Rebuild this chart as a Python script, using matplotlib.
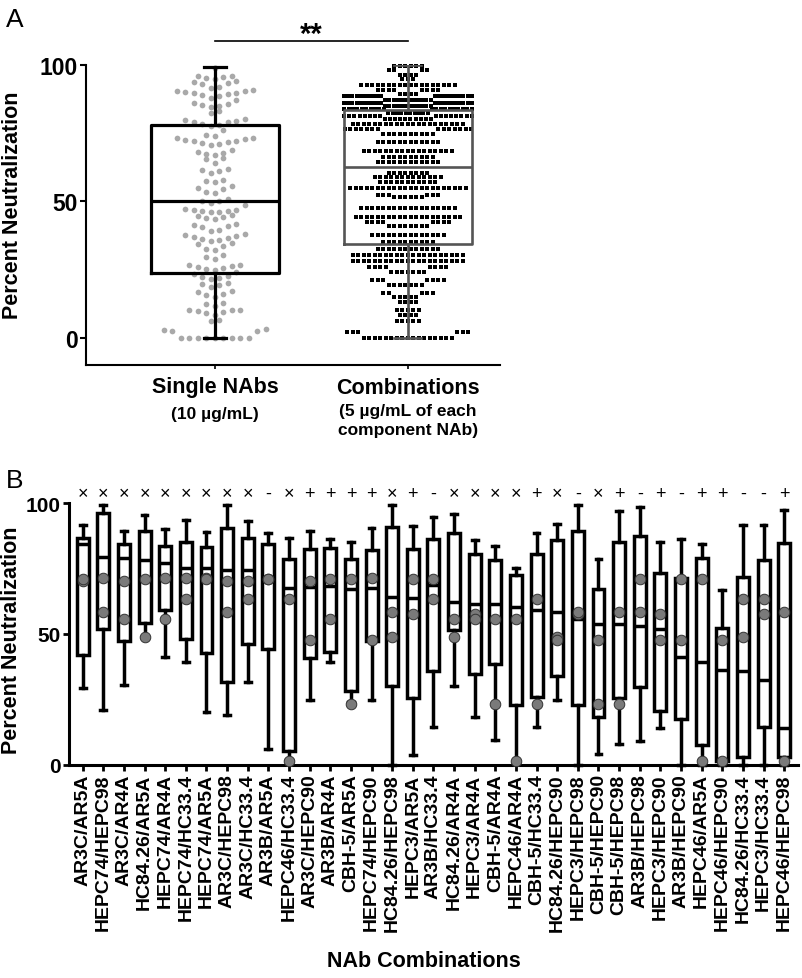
import numpy as np
import matplotlib
matplotlib.use("Agg")
import matplotlib.pyplot as plt

plt.rcParams['font.family'] = ['Liberation Sans', 'DejaVu Sans']

# ---------------- DATA ----------------
# Panel A: single NAbs (10 ug/mL) individual values
single_values = [
    0, 0, 0, 0, 0, 0, 0, 0, 0, 2.4, 2.6, 2.9, 3.1,
    6.0, 6.5,
    8.5, 9.0, 9.5, 9.8, 10.0, 10.2, 10.3,
    11.8, 12.2, 12.6,
    15.0, 15.5, 16.2, 16.6, 17.0,
    18.5, 19.5, 19.8, 20.2,
    21.5, 22.0, 22.3, 22.6, 23.5, 24.0,
    25.0, 25.3, 25.6, 25.9, 26.2, 26.5, 26.8,
    28.8, 29.5, 30.5,
    32.0, 32.5, 33.5, 34.2, 34.8,
    35.5, 36.0, 36.3, 36.6, 37.0, 37.3, 37.6, 38.0,
    39.0, 39.5, 40.5, 41.0, 41.3, 41.6,
    43.5, 44.0, 44.2, 44.5, 45.0,
    46.0, 46.2, 46.4, 46.6, 46.8, 47.0, 47.2, 48.5,
    49.5, 50.0, 50.3, 50.8,
    53.0, 53.5, 54.5, 55.0, 55.5,
    57.0, 57.5, 58.0,
    60.5, 61.0, 61.5, 62.0,
    64.0, 65.5, 66.0,
    67.0, 67.3, 67.6, 68.0, 69.0,
    70.5, 71.0, 71.5, 71.8, 72.0, 72.3, 72.6, 72.9, 73.1, 73.3,
    74.0, 74.5, 76.0,
    77.5, 78.0, 78.5, 79.0, 79.2, 79.5, 79.8, 80.2,
    82.5, 83.2,
    84.5, 85.0, 85.3, 85.6, 86.0, 87.0,
    88.0, 88.5, 89.0, 89.3, 89.6, 89.9, 90.1, 90.3, 90.5, 90.7,
    91.5, 92.0, 93.0, 93.3, 93.6, 94.0,
    95.0, 95.3, 95.6, 95.8, 96.0,
    99.0,
]

# Panel A: combinations (5 ug/mL each) - values and how many combos gave each
combo_levels = [0.0, 2.2, 6.3, 8.2, 10.0, 13.1, 14.9, 16.5, 19.5, 21.0, 24.2, 25.9,
                28.3, 30.2, 32.6, 35.0, 37.5, 41.0, 42.5, 44.2, 47.5, 51.5, 52.5,
                54.8, 57.0, 59.0, 60.5, 64.3, 66.2, 68.6, 71.7, 74.7, 76.5, 78.4,
                80.2, 81.4, 82.5, 83.8, 85.0, 86.2, 87.0, 88.5, 89.5, 91.0, 92.5,
                95.0, 96.5, 98.2, 99.5]
combo_counts = [17, 6, 5, 4, 5, 4, 5, 5, 7, 7, 7, 8,
                21, 21, 12, 10, 14, 8, 8, 20, 18, 6, 6,
                22, 11, 13, 8, 12, 10, 17, 12, 10, 14, 21,
                10, 16, 10, 20, 12, 20, 12, 20, 4, 8, 18,
                3, 4, 4, 6]

# Panel A box summaries: (min, Q1, median, Q3, max)
groupsA = ['Single NAbs', 'Combinations']
sublabelsA = ['(10 µg/mL)', '(5 µg/mL of each\ncomponent NAb)']
boxA = [(0.0, 23.8, 50.0, 78.1, 99.1),
        (0.0, 34.4, 62.5, 83.5, 100.0)]

# Panel B
combos = ['AR3C/AR5A', 'HEPC74/HEPC98', 'AR3C/AR4A', 'HC84.26/AR5A', 'HEPC74/AR4A',
          'HEPC74/HC33.4', 'HEPC74/AR5A', 'AR3C/HEPC98', 'AR3C/HC33.4', 'AR3B/AR5A',
          'HEPC46/HC33.4', 'AR3C/HEPC90', 'AR3B/AR4A', 'CBH-5/AR5A', 'HEPC74/HEPC90',
          'HC84.26/HEPC98', 'HEPC3/AR5A', 'AR3B/HC33.4', 'HC84.26/AR4A', 'HEPC3/AR4A',
          'CBH-5/AR4A', 'HEPC46/AR4A', 'CBH-5/HC33.4', 'HC84.26/HEPC90', 'HEPC3/HEPC98',
          'CBH-5/HEPC90', 'CBH-5/HEPC98', 'AR3B/HEPC98', 'HEPC3/HEPC90', 'AR3B/HEPC90',
          'HEPC46/AR5A', 'HEPC46/HEPC90', 'HC84.26/HC33.4', 'HEPC3/HC33.4', 'HEPC46/HEPC98']
interaction = ['×', '×', '×', '×', '×', '×', '×', '×', '×', '-', '×', '+', '+', '+', '+',
               '×', '+', '-', '×', '×', '×', '×', '+', '×', '-', '×', '+', '-', '+',
               '-', '+', '+', '-', '-', '+']
whislo = [29.3, 21.1, 30.7, 49.0, 41.1, 39.5, 20.4, 18.9, 31.8, 6.1, 2.0, 24.8, 39.2, 24.0,
          24.8, 0.0, 3.9, 14.4, 30.3, 18.2, 9.7, 1.0, 14.4, 25.0, 0.0, 4.2, 8.0, 9.3, 14.1,
          0.0, 0.0, 0.0, 0.0, 0.0, 0.0]
q1 = [42.0, 52.0, 47.3, 54.3, 59.0, 48.1, 42.8, 31.8, 46.2, 44.3, 5.5, 40.9, 43.0, 28.1,
      47.5, 30.3, 25.5, 35.7, 51.5, 34.8, 38.6, 22.9, 25.9, 33.9, 22.9, 18.2, 25.5, 29.7,
      20.8, 17.6, 7.6, 1.7, 2.9, 14.6, 2.9]
med = [84.4, 79.4, 79.1, 78.3, 77.2, 75.3, 75.3, 74.5, 74.5, 71.0, 67.6, 67.9, 68.3, 67.3,
       67.6, 64.1, 63.8, 68.8, 62.2, 61.5, 61.5, 60.2, 59.0, 58.3, 55.8, 53.9, 53.9, 53.2,
       52.0, 41.1, 39.2, 36.3, 35.8, 32.6, 14.1]
q3 = [86.6, 96.3, 84.4, 89.5, 83.6, 85.1, 83.2, 90.4, 86.6, 84.4, 78.7, 82.5, 82.9, 78.7,
      81.9, 90.8, 82.3, 86.4, 88.4, 80.6, 78.1, 72.6, 80.6, 85.7, 89.3, 67.0, 85.3, 87.4,
      73.2, 71.3, 79.1, 52.2, 71.7, 78.1, 84.8]
whishi = [91.5, 99.1, 89.2, 95.3, 89.9, 93.4, 88.9, 99.1, 93.0, 88.5, 86.6, 89.5, 86.1,
          85.1, 90.4, 99.1, 91.1, 94.6, 95.9, 86.0, 83.6, 75.2, 88.7, 92.1, 99.1, 78.7, 96.8,
          98.5, 85.1, 86.4, 84.4, 66.9, 91.7, 91.7, 97.2]
# single-NAb neutralization of each component (grey circles)
single_nab = {'AR3C': 70.3, 'AR5A': 71.0, 'AR4A': 55.8, 'HEPC74': 71.3, 'HEPC98': 58.5,
              'HC33.4': 63.4, 'HC84.26': 48.8, 'AR3B': 71.1, 'HEPC46': 1.7,
              'HEPC90': 47.8, 'CBH-5': 23.3, 'HEPC3': 57.6}

# ---------------- LAYOUT ----------------
W, H = 802, 979
fig = plt.figure(figsize=(W / 100, H / 100), dpi=100)


def rect(l, r, t, b):
    return [l / W, 1 - b / H, (r - l) / W, (b - t) / H]


def swarm_x(values, center, bin_h, dx, max_half):
    vals = np.asarray(values, float)
    bins = np.floor(vals / bin_h + 1e-9).astype(int)
    xs = np.empty_like(vals)
    for b in np.unique(bins):
        idx = np.where(bins == b)[0]
        idx = idx[np.argsort(vals[idx], kind='stable')]
        n = len(idx)
        step = dx
        if n > 1 and (n - 1) * dx / 2 > max_half:
            step = 2 * max_half / (n - 1)
        if n % 2 == 1:
            order = [0] + [s * k for k in range(1, n // 2 + 1) for s in (-1, 1)]
        else:
            order = [s * (k - 0.5) for k in range(1, n // 2 + 1) for s in (-1, 1)]
        xs[idx] = center + np.array(order, float) * step
    return xs


def fig_text(x, y, s, **kw):
    fig.text(x / W, 1 - y / H, s, **kw)


# ---------------- PANEL A ----------------
axA = fig.add_axes(rect(86, 500, 66, 366))
axA.set_xlim(-0.668, 1.477)
axA.set_ylim(-10, 100)

sv = np.array(single_values, float)
axA.scatter(swarm_x(sv, 0, 3.5, 0.044, 0.27), sv, s=17, marker='o',
            color='#a9a9a9', linewidths=0, zorder=2, clip_on=False)
cv = np.repeat(np.array(combo_levels, float), combo_counts)
axA.scatter(swarm_x(cv, 1, 2.4, 0.0285, 0.33), cv, s=10, marker='s',
            color='black', linewidths=0, zorder=2, clip_on=False)

colorsA = ['black', '#555555']
lwA = [2.3, 1.9]
capA = [0.11, 0.14]
for i, (lo, a, m, b, hi) in enumerate(boxA):
    st = dict(whislo=lo, q1=a, med=m, q3=b, whishi=hi, fliers=[])
    pr = dict(color=colorsA[i], lw=lwA[i])
    axA.bxp([st], positions=[i], widths=0.66, capwidths=capA[i], showfliers=False,
            boxprops=pr, medianprops=pr, whiskerprops=pr, capprops=pr,
            manage_ticks=False, zorder=3)

for sp in ['top', 'right']:
    axA.spines[sp].set_visible(False)
for sp in ['left', 'bottom']:
    axA.spines[sp].set_linewidth(1.5)
axA.spines['left'].set_bounds(-10, 100)
axA.set_yticks([0, 50, 100])
axA.set_yticklabels(['0', '50', '100'], fontsize=16.5, fontweight='bold')
axA.set_xticks([0, 1])
axA.set_xticklabels(['', ''])
axA.tick_params(axis='y', length=4, width=1.5, pad=2)
axA.tick_params(axis='x', length=3, width=1.2)

# significance
axA.plot([0, 1], [108.9, 108.9], color='black', lw=1.2, clip_on=False)
axA.text(0.5, 106.2, '**', ha='center', va='bottom', fontsize=21, fontweight='bold')

fig_text(215, 388, groupsA[0], ha='center', va='center', fontsize=15.5, fontweight='bold')
fig_text(215, 415, sublabelsA[0], ha='center', va='center', fontsize=12.5, fontweight='bold')
fig_text(408, 388, groupsA[1], ha='center', va='center', fontsize=15.5, fontweight='bold')
fig_text(408, 421, sublabelsA[1], ha='center', va='center', fontsize=12.5,
         fontweight='bold', linespacing=1.3)
fig_text(13, 205, 'Percent Neutralization', rotation=90, ha='center', va='center',
         fontsize=15.5, fontweight='bold')
fig_text(6, 27, 'A', ha='left', va='baseline', fontsize=19)

# ---------------- PANEL B ----------------
axB = fig.add_axes(rect(69, 798, 504, 766))
axB.set_xlim(-0.664, 34.67)
axB.set_ylim(0, 100)
n = len(combos)
pos = np.arange(n)
stats = [dict(whislo=whislo[i], q1=q1[i], med=med[i], q3=q3[i], whishi=whishi[i], fliers=[])
         for i in range(n)]
pr = dict(color='black', lw=2.5)
res = axB.bxp(stats, positions=pos, widths=0.58, capwidths=0.28, showfliers=False,
              patch_artist=True,
              boxprops=dict(facecolor='white', edgecolor='black', lw=2.5),
              medianprops=pr, whiskerprops=pr, capprops=pr, manage_ticks=False, zorder=2)
for art in res['whiskers'] + res['caps'] + res['medians']:
    art.set_clip_on(False)
for i, c in enumerate(combos):
    a, b = c.split('/')
    axB.scatter([i, i], [single_nab[a], single_nab[b]], s=58, color='#7a7a7a',
                edgecolors='#333333', linewidths=0.7, zorder=4, clip_on=False)
    axB.text(i, 103.6, interaction[i], ha='center', va='center', fontsize=13, clip_on=False)

for sp in ['top', 'right']:
    axB.spines[sp].set_visible(False)
for sp in ['left', 'bottom']:
    axB.spines[sp].set_linewidth(2.2)
axB.set_yticks([0, 50, 100])
axB.set_yticklabels(['0', '50', '100'], fontsize=15, fontweight='bold')
axB.set_xticks(pos)
axB.set_xticklabels(combos, rotation=90, fontsize=14, fontweight='bold')
axB.tick_params(axis='y', length=4, width=2, pad=2)
axB.tick_params(axis='x', length=4, width=2, pad=2)

fig_text(12, 640, 'Percent Neutralization', rotation=90, ha='center', va='center',
         fontsize=15.5, fontweight='bold')
fig_text(424, 962, 'NAb Combinations', ha='center', va='center', fontsize=15.5,
         fontweight='bold')
fig_text(6, 488, 'B', ha='left', va='baseline', fontsize=19)

fig.savefig('out.png', dpi=100)
